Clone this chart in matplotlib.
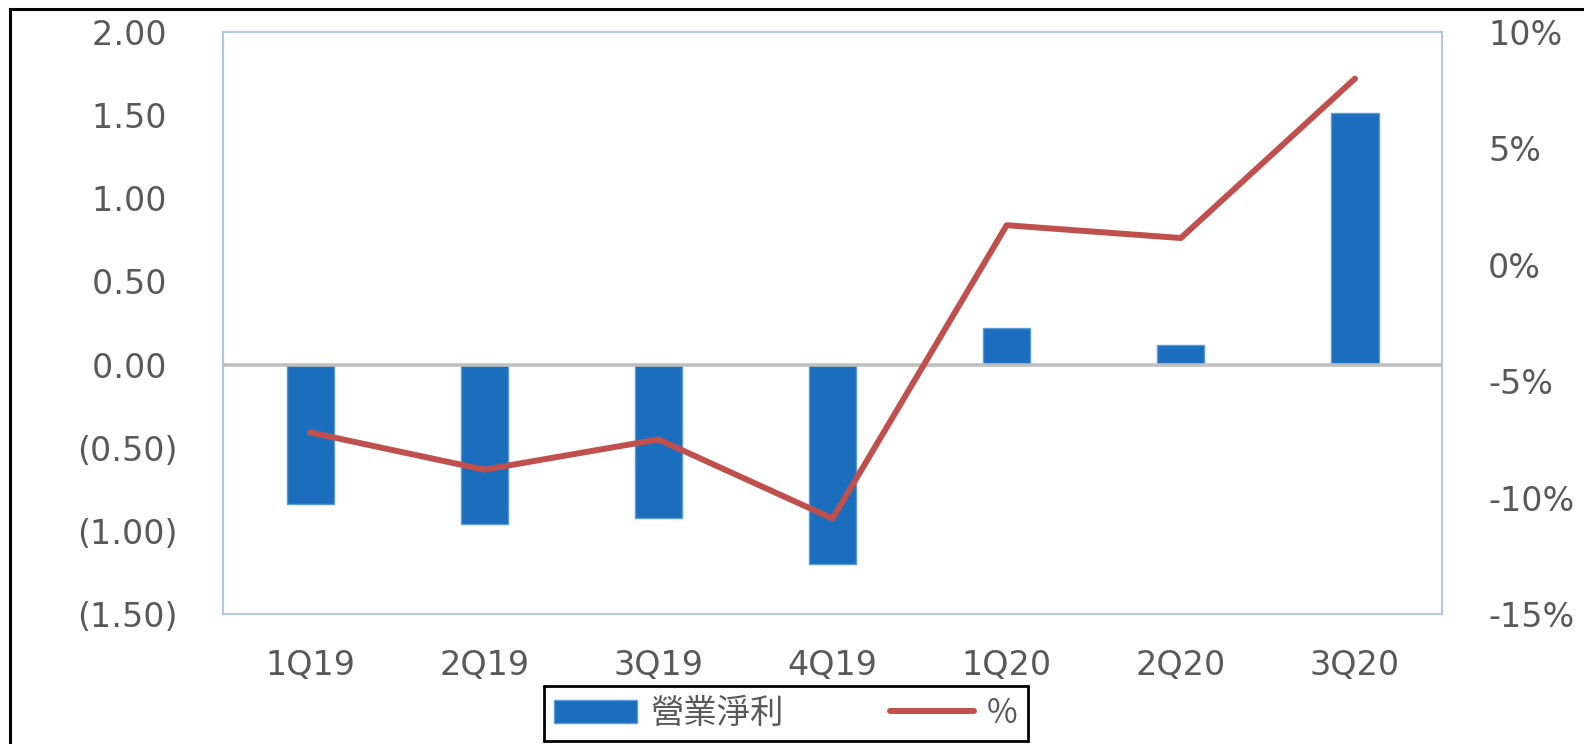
import matplotlib.pyplot as plt
from matplotlib.lines import Line2D
from matplotlib.ticker import FuncFormatter

# data
quarters = ["1Q19", "2Q19", "3Q19", "4Q19", "1Q20", "2Q20", "3Q20"]
net_income = [-0.84, -0.96, -0.92, -1.20, 0.22, 0.12, 1.51]
margin_pct = [-7.2, -8.8, -7.5, -10.9, 1.7, 1.15, 8.0]

left_ticks = [-1.5, -1.0, -0.5, 0.0, 0.5, 1.0, 1.5, 2.0]
right_ticks = [-15, -10, -5, 0, 5, 10]

txt = "#595959"
plt.rcParams['font.family'] = ['DejaVu Sans', 'Noto Sans CJK TC']

fig = plt.figure(figsize=(15.84, 7.44), dpi=100)
ax = fig.add_axes([0.1408, 0.1747, 0.7696, 0.7823])
x = list(range(len(quarters)))

ax.bar(x, net_income, width=0.27, color="#1A6EBD", edgecolor="#5B9BD5",
       linewidth=1, label="營業淨利", zorder=2)
ax.axhline(0, color="#BFBFBF", lw=2.6, zorder=3)
ax.set_xlim(-0.5, len(quarters) - 0.5)
ax.set_ylim(-1.5, 2.0)
ax.set_yticks(left_ticks)


def paren(v, pos):
    if v < 0:
        return "({:.2f})".format(-v)
    return "{:.2f} ".format(v)


ax.yaxis.set_major_formatter(FuncFormatter(paren))
ax.set_xticks(x)
ax.set_xticklabels(quarters)
ax.tick_params(axis="y", length=0, pad=33, labelsize=24, labelcolor=txt)
ax.tick_params(axis="x", length=0, pad=25, labelsize=24, labelcolor=txt)
for s in ax.spines.values():
    s.set_color("#B4C7E7")
    s.set_linewidth(1.5)

ax2 = ax.twinx()
ax2.plot(x, margin_pct, color="#C0504D", lw=4.3, solid_capstyle="round",
         label="%", zorder=4)
ax2.set_ylim(-15, 10)
ax2.set_yticks(right_ticks)
ax2.yaxis.set_major_formatter(FuncFormatter(lambda v, p: "{:.0f}%".format(v)))
ax2.tick_params(axis="y", length=0, pad=33, labelsize=24, labelcolor=txt)
for s in ax2.spines.values():
    s.set_visible(False)

h1, l1 = ax.get_legend_handles_labels()
h2, l2 = ax2.get_legend_handles_labels()
leg = fig.legend(h1 + h2, l1 + l2, loc="center", bbox_to_anchor=(0.496, 0.041),
                 ncol=2, fancybox=False, framealpha=1, edgecolor="black",
                 prop={"family": ["Noto Sans CJK TC", "DejaVu Serif"], "size": 24},
                 handlelength=2.5, handletextpad=0.4, columnspacing=3.2,
                 borderpad=0.3, borderaxespad=0)
leg.get_frame().set_linewidth(2)
for t in leg.get_texts():
    t.set_color(txt)

# outer frame (left and top only are visible)
fig.add_artist(Line2D([10 / 1584, 10 / 1584], [0, 1 - 9 / 744], color="black",
                      lw=2.2, transform=fig.transFigure))
fig.add_artist(Line2D([10 / 1584, 1], [1 - 9 / 744, 1 - 9 / 744], color="black",
                      lw=2.2, transform=fig.transFigure))

fig.savefig("out.png", dpi=100)
